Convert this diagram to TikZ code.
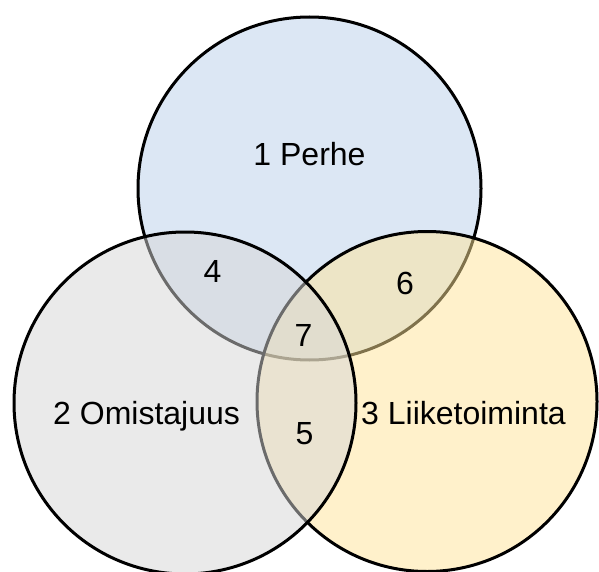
\documentclass[tikz,border=0pt]{standalone}
\usepackage{fontspec}
\setmainfont{Liberation Sans}
\definecolor{cblue}{RGB}{187,209,235}
\definecolor{cgray}{RGB}{215,215,215}
\definecolor{cyellow}{RGB}{255,229,153}
\begin{document}
\begin{tikzpicture}[x=1pt,y=-1pt,
  setcirc/.style={draw=black,line width=3pt,fill opacity=0.5},
  lbl/.style={anchor=base,inner sep=0pt,font=\fontsize{32}{38}\selectfont}]
\useasboundingbox (0,0) rectangle (599,572);
\fill[white] (0,0) rectangle (599,572);
\draw[setcirc,fill=cblue] (309.5,188.5) circle[radius=171.5];
\draw[setcirc,fill=cyellow] (427,401.5) circle[radius=170];
\draw[setcirc,fill=cgray] (185,403) circle[radius=171];
\node[lbl] (perhe) at (309.5,165) {1 Perhe};
\node[lbl] (omist) at (146.6,424.5) {2 Omistajuus};
\node[lbl] (liike) at (463.5,424.5) {3 Liiketoiminta};
\node[lbl] (n4) at (212.5,282) {4};
\node[lbl] (n6) at (405,294) {6};
\node[lbl] (n7) at (303.5,346) {7};
\node[lbl] (n5) at (304.5,444) {5};
\end{tikzpicture}
\end{document}
